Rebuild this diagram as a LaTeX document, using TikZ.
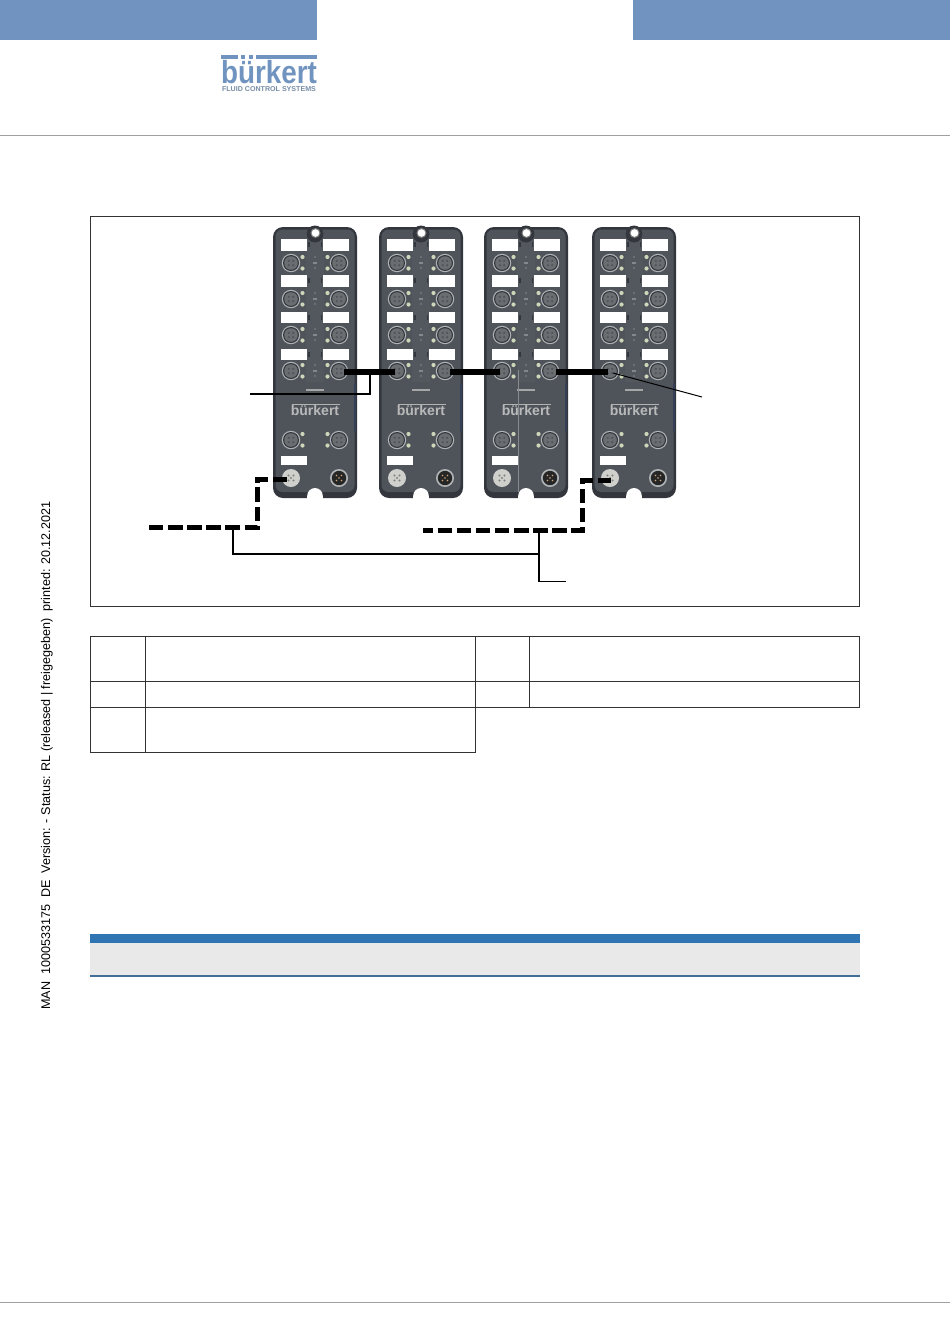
\documentclass[tikz,border=0pt]{standalone}
\usepackage{fontspec}
\setmainfont{Liberation Sans}
\definecolor{hdr}{HTML}{7094BF}
\definecolor{modedge}{HTML}{33373D}
\definecolor{modbody}{HTML}{4F545B}
\definecolor{modpale}{HTML}{53585E}
\definecolor{modside}{HTML}{363F58}
\definecolor{led}{HTML}{CDD6B8}
\definecolor{ring}{HTML}{B0B4B6}
\definecolor{conn}{HTML}{6A6E70}
\definecolor{silver}{HTML}{CFD0CC}
\definecolor{barblue}{HTML}{2F74B3}
\definecolor{bargrey}{HTML}{E9E9E9}
\definecolor{barline}{HTML}{426F98}
\definecolor{rulegrey}{HTML}{A0A0A0}
\definecolor{tabline}{HTML}{333333}
\newcommand{\mconn}[2]{%
  \fill[ring] (#1,#2) circle[radius=9.2pt];
  \fill[modedge] (#1,#2) circle[radius=8pt];
  \fill[conn] (#1,#2) circle[radius=6.8pt];
  \foreach \dx/\dy in {-2.2/-2.2,2.2/-2.2,-2.2/2.2,2.2/2.2}
    \fill[modbody] (#1+\dx,#2+\dy) circle[radius=1.2pt];
}
\newcommand{\mleds}[2]{%
  \fill[led] (#1,#2-6) circle[radius=2.1pt];
  \fill[led] (#1,#2+5.5) circle[radius=2.1pt];
}
\tikzset{
  x=1pt,y=-1pt,
  labelbox/.style={fill=white},
  thickwire/.style={line width=6pt,black},
  dashwire/.style={line width=5pt,black,dash pattern=on 14.4pt off 4.7pt,line join=miter},
  leader/.style={line width=1.6pt,black,line join=miter},
  thinleader/.style={line width=1pt,black},
  tablerule/.style={line width=1pt,tabline},
  modul/.pic={
    \fill[modedge,rounded corners=10pt] (0,0) rectangle (84,271);
    \fill[modbody,rounded corners=7pt] (2.5,2.5) rectangle (81.5,265);
    \fill[modpale] (33,3) rectangle (51,155);
    \fill[modedge] (42,7) circle[radius=8.5pt];
    \fill[gray] (42.5,6) circle[radius=5pt];
    \fill[white] (42.5,6) circle[radius=3.8pt];
    \fill[white] (42,268.8) circle[radius=7.8pt];
    \fill[white] (34.2,268.8) rectangle (49.8,272);
    \fill[modside] (81,156) rectangle (82.5,204);
    \foreach \ly/\lh in {12/12,48/12,85/11,122/11}{
      \fill[labelbox] (8,\ly) rectangle ++(26,\lh);
      \fill[labelbox] (50,\ly) rectangle ++(26,\lh);
      \fill[modedge] (35.4,\ly+3) rectangle ++(1.5,5);
      \fill[modedge] (47.8,\ly+3) rectangle ++(1.5,5);
    }
    \fill[labelbox] (8,229) rectangle ++(26,9);
    \foreach \cy in {36,72,108,144,213}{
      \mconn{18}{\cy}
      \mconn{66}{\cy}
      \mleds{29.5}{\cy}
      \mleds{54.5}{\cy}
    }
    \foreach \cy in {36,72,108,144}{
      \fill[modbody!70!white] (42,\cy-6) circle[radius=.8pt];
      \fill[modbody!70!white] (40,\cy-1) rectangle ++(4,1.5);
      \fill[modbody!70!white] (42,\cy+5) circle[radius=.8pt];
    }
    \fill[silver] (18,251) circle[radius=9pt];
    \foreach \dx/\dy in {-2.5/-2.5,2.5/-2.5,-2.5/2.5,2.5/2.5,0/0}
      \fill[gray] (18+\dx,251+\dy) circle[radius=1.2pt];
    \fill[ring] (66,251) circle[radius=9pt];
    \fill[black!85] (66,251) circle[radius=7.2pt];
    \foreach \dx/\dy in {-2.5/-2.5,2.5/-2.5,-2.5/2.5,2.5/2.5,0/0}
      \fill[brown!70!white] (66+\dx,251+\dy) circle[radius=.9pt];
    \fill[gray!70] (33,161.5) rectangle (51,163.5);
    \fill[gray!60] (19,176.5) rectangle (67,178);
    \node[inner sep=0pt,text=gray!55,font=\bfseries\fontsize{14}{14}\selectfont] (brand) at (42,183) {bürkert};
  }
}
\begin{document}
\begin{tikzpicture}
\useasboundingbox (0,0) rectangle (950,1344);
% page head
\fill[hdr] (0,0) rectangle (317,40);
\fill[hdr] (633,0) rectangle (950,40);
\fill[hdr] (221,55) rectangle (238,58.5);
\fill[hdr] (241,55) rectangle (245,58.5);
\fill[hdr] (249,55) rectangle (253,58.5);
\fill[hdr] (256,55) rectangle (317,58.5);
\node[inner sep=0pt,anchor=base,text=hdr,xscale=0.87,font=\bfseries\fontsize{32}{32}\selectfont] (logo) at (269,83) {bürkert};
\node[inner sep=0pt,anchor=base,text=hdr!60!gray,font=\bfseries\fontsize{7.1}{8}\selectfont] (logosub) at (269,91) {FLUID CONTROL SYSTEMS};
\draw[rulegrey,line width=.8pt] (0,135.5) -- (950,135.5);
\draw[rulegrey,line width=.8pt] (0,1302.5) -- (950,1302.5);
% side text
\node[rotate=90,anchor=west,inner sep=0pt,font=\fontsize{12.6}{14}\selectfont] (side) at (47,1010)
  {MAN\ \ 1000533175\ \ DE\ \ Version: - Status: RL (released | freigegeben)\ \ printed: 20.12.2021};
% figure frame
\draw[line width=1pt,tabline] (90.5,216.5) rectangle (859.5,606);
% modules
\pic (ma) at (273,227) {modul};
\pic (mb) at (379,227) {modul};
\pic (mc) at (484,227) {modul};
\pic (md) at (592,227) {modul};
\draw[modpale!70!white,line width=.6pt] (518,370) -- (518,492);
% thick links
\coordinate (aout) at (344,371.5);
\coordinate (bin) at (395,371.5);
\coordinate (bout) at (450,371.5);
\coordinate (cin) at (500,371.5);
\coordinate (cout) at (556,371.5);
\coordinate (din) at (608,371.5);
\draw[thickwire] (aout) -- (bin);
\draw[thickwire] (bout) -- (cin);
\draw[thickwire] (cout) -- (din);
% dashed links
\coordinate (lstart) at (149,527);
\coordinate (lc1) at (257.5,527);
\coordinate (lc2) at (257.5,479);
\coordinate (lend) at (288,479);
\draw[dashwire] (lstart) -- (lc1) -- (lc2) -- (lend);
\coordinate (rstart) at (423,530);
\coordinate (rc1) at (582.5,530);
\coordinate (rc2) at (582.5,480);
\coordinate (rend) at (611,480);
\draw[dashwire,dash phase=4.4pt] (rstart) -- (rc1) -- (rc2) -- (rend);
% leaders
\coordinate (la) at (250,394);
\coordinate (lb) at (370,394);
\coordinate (lc) at (370,371.5);
\draw[leader] (la) -- (lb) -- (lc);
\coordinate (ra) at (613,373);
\coordinate (rb) at (702,397);
\draw[thinleader] (ra) -- (rb);
\coordinate (ba) at (233,527);
\coordinate (bb) at (233,554);
\coordinate (bc) at (539,554);
\coordinate (bd) at (539,530);
\coordinate (be) at (539,581.5);
\coordinate (bf) at (566,581.5);
\draw[leader] (ba) -- (bb) -- (bc);
\draw[leader] (bd) -- (be) -- (bf);
% table
\draw[tablerule] (90.5,636.5) rectangle (859.5,707.5);
\draw[tablerule] (90.5,681.5) -- (859.5,681.5);
\draw[tablerule] (145.5,636.5) -- (145.5,752.5);
\draw[tablerule] (475.5,636.5) -- (475.5,752.5);
\draw[tablerule] (529.5,636.5) -- (529.5,707.5);
\draw[tablerule] (90.5,707.5) -- (90.5,752.5) -- (475.5,752.5);
% note bar
\fill[barblue] (90,934) rectangle (860,942.5);
\fill[bargrey] (90,942.5) rectangle (860,975);
\fill[barline] (90,975) rectangle (860,977);
\end{tikzpicture}
\end{document}
